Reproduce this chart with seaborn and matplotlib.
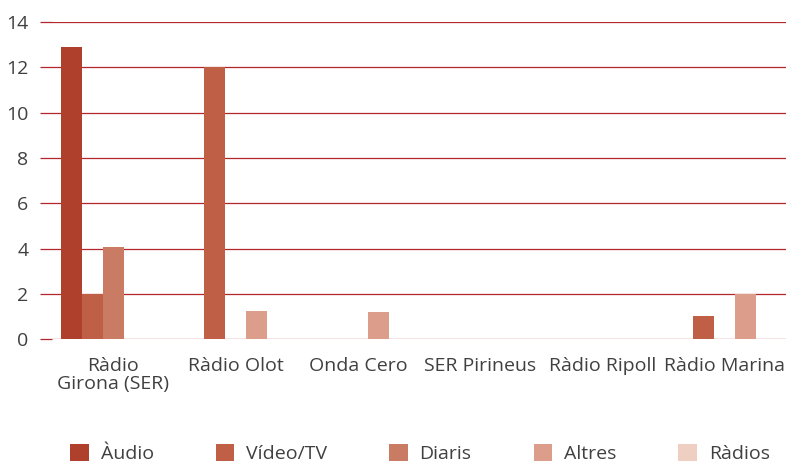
import numpy as np
import pandas as pd
import matplotlib
matplotlib.use("Agg")
import matplotlib.pyplot as plt
import seaborn as sns

# Chart data
stations = ["Ràdio\nGirona (SER)", "Ràdio Olot", "Onda Cero", "SER Pirineus", "Ràdio Ripoll", "Ràdio Marina"]
series = ["Àudio", "Vídeo/TV", "Diaris", "Altres", "Ràdios"]
audio = [12.9, 0, 0, 0, 0, 0]
video = [2.0, 12.0, 0, 0, 0, 1.0]
diaris = [4.05, 0, 0, 0, 0, 0]
altres = [0, 1.23, 1.2, 0, 0, 2.0]
radios = [0, 0, 0, 0, 0, 0]
colors = ["#ae402c", "#bf5f46", "#c97b64", "#dc9e8a", "#efcfc2"]

values = [audio, video, diaris, altres, radios]
df = pd.DataFrame({
    "Emissora": stations * len(series),
    "Tipus": [s for s in series for _ in stations],
    "Valor": [v for vals in values for v in vals],
})

sns.set_theme(style="white")
plt.rcParams["font.family"] = ["Open Sans", "DejaVu Sans"]

grid_col = "#b3262e"
text_col = "#404040"

fig = plt.figure(figsize=(7.94, 4.62), dpi=100)
ax = fig.add_axes([0.0655, 0.266, 0.9245, 0.686])

sns.barplot(data=df, x="Emissora", y="Valor", hue="Tipus", hue_order=series,
            palette=colors, saturation=1, width=0.86, linewidth=0, ax=ax, zorder=3)

ax.set_ylim(0, 14)
ax.set_yticks(np.arange(0, 15, 2))
ax.set_xlim(-0.5, len(stations) - 0.5)
ax.set_xlabel("")
ax.set_ylabel("")
for s in ax.spines.values():
    s.set_visible(False)
ax.yaxis.grid(True, color=grid_col, linewidth=0.9, zorder=0)
ax.set_axisbelow(True)
ax.tick_params(axis="y", length=9, width=0.9, color=grid_col, pad=8,
               labelsize=14, labelcolor=text_col, left=True)
ax.tick_params(axis="x", length=0, pad=13, labelsize=14, labelcolor=text_col)
for t in ax.get_xticklabels():
    t.set_linespacing(1.0)

handles, labels = ax.get_legend_handles_labels()
ax.get_legend().remove()
fig.legend(handles, labels, loc="center", ncol=5, frameon=False,
           bbox_to_anchor=(0.529, 0.018), fontsize=14, labelcolor=text_col,
           handlelength=0.95, handleheight=0.95, handletextpad=0.6,
           columnspacing=3.2, borderpad=0, borderaxespad=0)

fig.savefig("out.png", dpi=100)
